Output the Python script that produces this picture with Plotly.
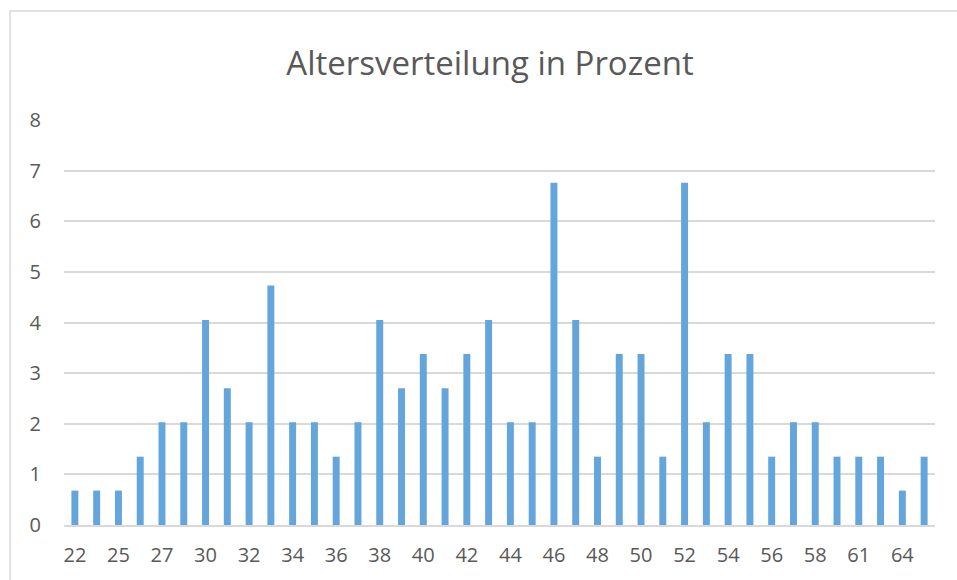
import plotly.graph_objects as go

ages = ["22", "24", "25", "26", "27", "28", "30", "31", "32", "33",
        "34", "35", "36", "37", "38", "39", "40", "41", "42", "43",
        "44", "45", "46", "47", "48", "49", "50", "51", "52", "53",
        "54", "55", "56", "57", "58", "60", "61", "62", "64", "65"]
percent = [0.68, 0.68, 0.68, 1.35, 2.03, 2.03, 4.05, 2.70, 2.03, 4.73,
           2.03, 2.03, 1.35, 2.03, 4.05, 2.70, 3.38, 2.70, 3.38, 4.05,
           2.03, 2.03, 6.76, 4.05, 1.35, 3.38, 3.38, 1.35, 6.76, 2.03,
           3.38, 3.38, 1.35, 2.03, 2.03, 1.35, 1.35, 1.35, 0.68, 1.35]
y_ticks = [0, 1, 2, 3, 4, 5, 6, 7, 8]
title_text = "Altersverteilung in Prozent"

W, H = 957, 580
L, R, T, B = 64, 935, 120, 525

fig = go.Figure(go.Bar(x=ages, y=percent, marker=dict(color="#64A6DB", line=dict(width=0)),
                       hoverinfo="x+y"))

fig.update_layout(
    width=W, height=H,
    margin=dict(l=L, r=W - R, t=T, b=H - B),
    paper_bgcolor="white", plot_bgcolor="white",
    bargap=0.68,
    showlegend=False,
    font=dict(family="Open Sans", color="#595959"),
    title=dict(text=title_text, x=490 / W, xref="container", xanchor="center",
               y=1 - 63 / H, yref="container", yanchor="middle",
               font=dict(size=33, color="#595959", family="Open Sans")),
    xaxis=dict(type="category", tickvals=ages[::2], ticktext=ages[::2],
               tickfont=dict(size=20, color="#595959"), showgrid=False,
               showline=True, linecolor="#d9d9d9", linewidth=1.5, ticks="",
               ticklabelstandoff=11, fixedrange=True),
    yaxis=dict(range=[0, 8], tickvals=y_ticks, tickfont=dict(size=20, color="#595959"),
               showgrid=True, gridcolor="#d9d9d9", gridwidth=1.5, zeroline=False,
               showline=False, ticks="", ticklabelstandoff=22, fixedrange=True),
    shapes=[dict(type="rect", xref="paper", yref="paper",
                 x0=(10 - L) / (R - L), x1=(W + 5 - L) / (R - L),
                 y0=(B - (H + 5)) / (B - T), y1=(B - 11) / (B - T),
                 line=dict(color="#d9d9d9", width=1.5), fillcolor="rgba(0,0,0,0)",
                 layer="below")],
)

fig.write_html("out.html", config={"displayModeBar": False},
               post_script="document.body.style.margin='0';document.body.style.overflow='hidden';")
